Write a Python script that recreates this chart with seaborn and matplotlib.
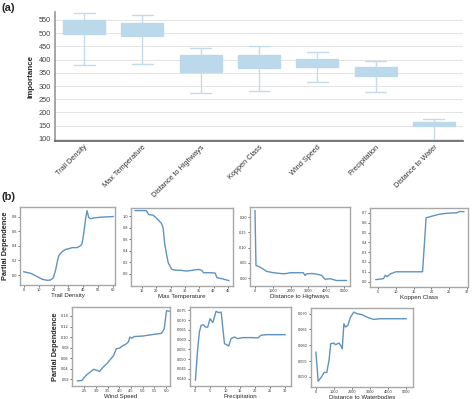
import numpy as np
import pandas as pd
import matplotlib
matplotlib.use('Agg')
import matplotlib.pyplot as plt
from matplotlib.ticker import FormatStrFormatter
import seaborn as sns

# --- panel (a): importance box summaries ---
features = ['Trail Density', 'Max Temperature', 'Distance to Highways', 'Koppen Class',
            'Wind Speed', 'Precipitation', 'Distance to Water']
whisker_low = [380, 385, 273, 283, 316, 278, 93]
box_q1 = [497, 490, 353, 370, 372, 336, 147]
box_median = [522, 514, 385, 395, 388, 354, 155]
box_q3 = [550, 537, 416, 418, 404, 372, 163]
whisker_high = [578, 568, 444, 453, 428, 394, 176]

# --- panel (b): partial dependence curves ---
td_x = [0, 4.9, 7.1, 10.4, 12.6, 15.9, 18.1, 19.9, 21.4, 22.5, 23.6, 25.8, 28.0, 30.2,
        32.5, 35.8, 38.0, 39.1, 40.2, 41.3, 42.4, 43.5, 44.6, 46.8, 51.2, 60]
td_y = [0.045, 0.023, 0.0, -0.036, -0.059, -0.072, -0.068, -0.036, 0.068, 0.18, 0.27, 0.32,
        0.35, 0.36, 0.375, 0.375, 0.40, 0.43, 0.57, 0.75, 0.88, 0.79, 0.77, 0.78, 0.79, 0.80]

mt_x = [12.6, 16.5, 17.4, 18.9, 20.1, 21.2, 21.8, 22.4, 23.0, 23.6, 24.2, 25.4, 26.5, 28.9,
        30.6, 34.8, 35.9, 36.5, 39.5, 40.6, 41.2, 42.4, 45.4]
mt_y = [1.10, 1.10, 1.03, 1.02, 0.97, 0.91, 0.88, 0.80, 0.51, 0.34, 0.19, 0.075, 0.064, 0.058,
        0.046, 0.075, 0.058, 0.017, 0.017, 0.01, -0.07, -0.08, -0.12]

dh_x = [0, 56, 281, 655, 1030, 1592, 1779, 1966, 2528, 2715, 2809, 2903, 3184, 3464, 3745,
        3933, 4213, 4588, 5150]
dh_y = [0.222, 0.0415, 0.036, 0.022, 0.0175, 0.014, 0.015, 0.0175, 0.0175, 0.0175, 0.0087,
        0.014, 0.015, 0.013, 0.0087, -0.004, -0.002, -0.008, -0.008]

kc_x = [4.3, 6.5, 7.0, 7.5, 8.5, 10, 12, 15, 17.5, 18.5, 20, 22, 24, 26, 27, 28, 29.2]
kc_y = [0.02, 0.03, 0.065, 0.05, 0.08, 0.1, 0.1, 0.1, 0.1, 0.65, 0.665, 0.685, 0.695, 0.7,
        0.7, 0.715, 0.712]

ws_x = [2.19, 2.40, 2.50, 2.61, 2.73, 2.90, 3.04, 3.15, 3.30, 3.47, 3.64, 3.75, 3.87, 4.01,
        4.15, 4.26, 4.39, 4.45, 4.53, 4.63, 5.0, 5.3, 5.6, 5.8, 5.92, 6.02, 6.15]
ws_y = [0.017, 0.018, 0.024, 0.029, 0.033, 0.039, 0.037, 0.035, 0.043, 0.050, 0.059, 0.065,
        0.078, 0.079, 0.084, 0.086, 0.091, 0.10, 0.098, 0.101, 0.102, 0.104, 0.106, 0.107,
        0.115, 0.150, 0.149]

pr_x = [0, 0.78, 1.33, 1.9, 2.67, 3.33, 4.1, 4.9, 5.8, 6.9, 7.8, 8.6, 9.7, 10.4, 11.1, 11.9,
        13.0, 14.1, 15.8, 19.1, 20.8, 21.9, 23.6, 30.0]
pr_y = [0.0391, 0.0554, 0.0639, 0.0673, 0.0676, 0.0664, 0.0664, 0.0707, 0.0687, 0.0745,
        0.0738, 0.0741, 0.0579, 0.0574, 0.0567, 0.0605, 0.0613, 0.0605, 0.061, 0.061, 0.0608,
        0.0622, 0.0625, 0.0625]

dw_x = [0, 127, 309, 455, 600, 727, 818, 964, 1091, 1273, 1364, 1455, 1545, 1636, 1764, 1909,
        2091, 2273, 2545, 2818, 3182, 3545, 5000]
dw_y = [0.0579, 0.0486, 0.050, 0.0514, 0.0514, 0.0553, 0.0605, 0.0607, 0.0602, 0.0607, 0.060,
        0.0589, 0.0668, 0.0658, 0.0663, 0.0689, 0.0705, 0.070, 0.0697, 0.0689, 0.0682, 0.0684,
        0.0684]

W, H = 474, 399
sns.set_theme(style='white')
plt.rcParams['font.family'] = ['Liberation Sans', 'DejaVu Sans']

fig = plt.figure(figsize=(W / 100, H / 100), dpi=100)


def px_axes(left, top, right, bottom):
    return fig.add_axes([left / W, 1 - bottom / H, (right - left) / W, (bottom - top) / H])


# ---------- (a) ----------
df = pd.DataFrame({
    'feature': np.repeat(features, 5),
    'importance': np.column_stack([whisker_low, box_q1, box_median, box_q3, whisker_high]).ravel(),
})
ax = px_axes(55, 12, 463, 141)
box_col = '#bcd9ec'
sns.boxplot(data=df, x='feature', y='importance', ax=ax, whis=(0, 100), width=0.72,
            color=box_col, saturation=1, linecolor='#c4dbea', linewidth=1.0,
            medianprops=dict(color=box_col), boxprops=dict(edgecolor=box_col))
ax.set_ylim(92, 580)
ax.set_yticks(range(100, 551, 50))
ax.yaxis.grid(True, color='#e4e4e4', linewidth=0.7)
ax.set_axisbelow(True)
for s in ['top', 'right']:
    ax.spines[s].set_visible(False)
ax.spines['left'].set_color('#9a9a9a')
ax.spines['bottom'].set_color('#606060')
ax.spines['bottom'].set_linewidth(1.2)
ax.tick_params(axis='y', length=0, labelsize=5.3, colors='#444444', pad=3)
ax.tick_params(axis='x', length=0, labelsize=5.3, colors='#333333', pad=2)
for lab in ax.get_xticklabels():
    lab.set_rotation(45)
    lab.set_ha('right')
    lab.set_rotation_mode('anchor')
ax.set_xlabel('')
ax.set_ylabel('Importance', fontsize=5.8, fontweight='bold', labelpad=3)

fig.text(0.004, 0.993, '(a)', fontsize=8, fontweight='bold', va='top')
fig.text(0.004, 0.518, '(b)', fontsize=8, fontweight='bold', va='top')

# ---------- (b) ----------
panels = [
    (td_x, td_y, 'Trail Density', (20, 207, 115, 285), (-2.4, 61.1), (-0.136, 0.93),
     np.arange(0, 61, 10), np.arange(0, 0.81, 0.2), '%d', '%.1f', True),
    (mt_x, mt_y, 'Max Temperature', (131, 208, 233, 286), (11.2, 46.8), (-0.214, 1.145),
     np.arange(15, 46, 5), np.arange(0, 1.01, 0.2), '%d', '%.1f', False),
    (dh_x, dh_y, 'Distance to Highways', (250, 207, 350, 286), (-280, 5340), (-0.026, 0.233),
     np.arange(0, 5001, 1000), np.arange(0, 0.201, 0.05), '%d', '%.2f', False),
    (kc_x, kc_y, 'Koppen Class', (370, 208, 468, 287), (2.7, 30.3), (-0.055, 0.75),
     np.arange(5, 31, 5), np.arange(0, 0.71, 0.1), '%d', '%.1f', False),
    (ws_x, ws_y, 'Wind Speed', (72, 307, 170, 386), (1.97, 6.17), (0.0074, 0.157),
     np.arange(2.5, 6.01, 0.5), np.arange(0.02, 0.141, 0.02), '%.1f', '%.2f', True),
    (pr_x, pr_y, 'Precipitation', (190, 307, 291, 386), (-1.8, 31.9), (0.0362, 0.0767),
     np.arange(0, 31, 5), np.arange(0.040, 0.0751, 0.005), '%d', '%.3f', False),
    (dw_x, dw_y, 'Distance to Waterbodies', (311, 308, 413, 387), (-270, 5360), (0.0468, 0.0718),
     np.arange(0, 5001, 1000), np.arange(0.050, 0.0701, 0.005), '%d', '%.3f', False),
]

line_col = '#5f93c0'
for xs, ys, name, box, xl, yl, xt, yt, xf, yf, show_ylab in panels:
    a = px_axes(*box)
    sns.lineplot(x=xs, y=ys, ax=a, color=line_col, linewidth=1.0, sort=False)
    a.set_xlim(*xl)
    a.set_ylim(*yl)
    a.set_xticks(xt)
    a.set_yticks(yt)
    a.xaxis.set_major_formatter(FormatStrFormatter(xf))
    a.yaxis.set_major_formatter(FormatStrFormatter(yf))
    a.tick_params(labelsize=2.8, length=1.2, width=0.5, colors='#333333', pad=1)
    a.tick_params(bottom=True, left=True)
    for s in a.spines.values():
        s.set_color('#a8a8a8')
        s.set_linewidth(1.0)
    a.set_xlabel(name, fontsize=4.4, labelpad=0.5)
    if show_ylab:
        a.set_ylabel('Partial Dependence', fontsize=5.3, fontweight='bold', labelpad=1.5)
    else:
        a.set_ylabel('')

fig.savefig('out.png', dpi=100)
